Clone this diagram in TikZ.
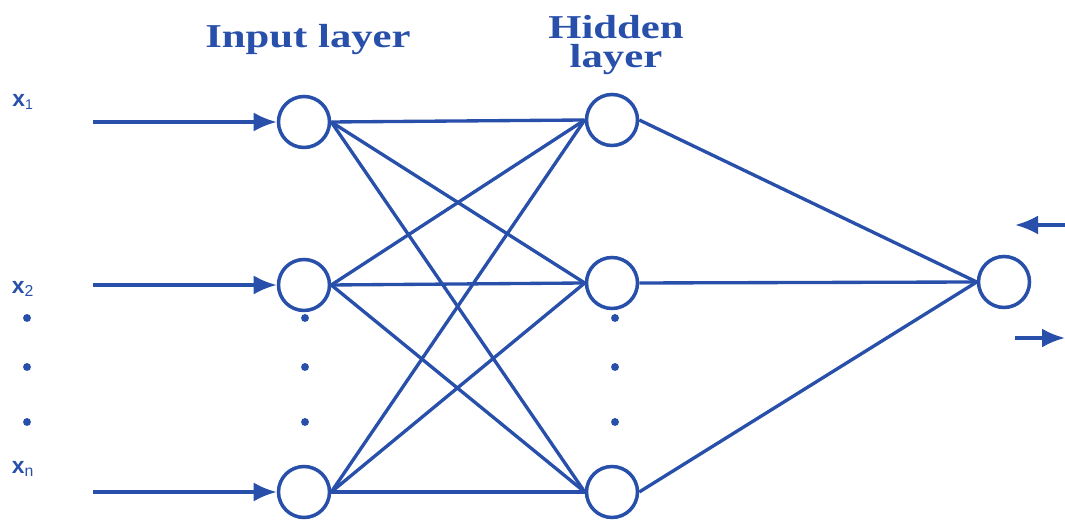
\documentclass[tikz,border=0pt]{standalone}
\usepackage{fontspec}
\setmainfont{Liberation Serif}
\newfontfamily\labelfont{Liberation Sans}
\usepackage{tikz}
\usetikzlibrary{arrows.meta}
\definecolor{netblue}{HTML}{2850AA}

\begin{document}
\begin{tikzpicture}[
  >={Latex[length=4.6mm,width=3.8mm]},
  neuron/.style={circle,draw=netblue,line width=2pt,fill=white,
    minimum size=1.02cm,inner sep=0pt},
  link/.style={netblue,line width=1.9pt},
  head/.style={text=netblue,font=\fontsize{19}{17}\selectfont\bfseries,
    align=center,xscale=1.28,transform shape},
  xlabel/.style={text=netblue,font=\labelfont\bfseries\fontsize{13}{14}\selectfont},
  vdot/.style={circle,fill=netblue,inner sep=0pt,minimum size=4.5pt}
]
  \useasboundingbox (0,0) rectangle (21.3,10.4);

  % layers
  \node[neuron] (i1) at (6.08,7.96) {};
  \node[neuron] (i2) at (6.08,4.70) {};
  \node[neuron] (i3) at (6.08,0.56) {};
  \node[neuron] (h1) at (12.24,8.00) {};
  \node[neuron] (h2) at (12.24,4.74) {};
  \node[neuron] (h3) at (12.24,0.56) {};
  \node[neuron] (out) at (20.08,4.76) {};

  \node[head] (inhead) at (6.16,9.6) {Input layer};
  \node[head] (hidhead) at (12.32,9.5) {Hidden\\layer};

  % inputs
  \node[xlabel] (x1) at (0.46,8.36) {x\textsubscript{\fontsize{8}{8}\selectfont\mdseries 1}};
  \node[xlabel] (x2) at (0.46,4.62) {x\textsubscript{\fontsize{9}{9}\selectfont\mdseries 2}};
  \node[xlabel] (xn) at (0.46,1.02) {x\textsubscript{\fontsize{9}{9}\selectfont\mdseries n}};
  \coordinate (s1) at (1.86,7.96);
  \coordinate (s2) at (1.86,4.70);
  \coordinate (s3) at (1.86,0.56);
  \foreach \k in {1,2,3}
    \draw[link,->] (s\k) -- (i\k.west);

  % ellipsis dots
  \foreach \y [count=\n] in {4.04,3.06,1.96} {
    \node[vdot] (ld\n) at (0.54,\y) {};
    \node[vdot] (id\n) at (6.1,\y) {};
    \node[vdot] (hd\n) at (12.3,\y) {};
  }

  % weights
  \foreach \a in {1,2,3}
    \foreach \b in {1,2,3}
      \draw[link] (i\a.east) -- (h\b.west);
  \foreach \b in {1,2,3}
    \draw[link] (h\b.east) -- (out.west);

  % output side
  \coordinate (fbstart) at (21.3,5.9);
  \coordinate (fbend) at (20.3,5.9);
  \coordinate (ostart) at (20.3,3.64);
  \coordinate (oend) at (21.3,3.64);
  \draw[link,->] (fbstart) -- (fbend);
  \draw[link,->] (ostart) -- (oend);
\end{tikzpicture}
\end{document}
